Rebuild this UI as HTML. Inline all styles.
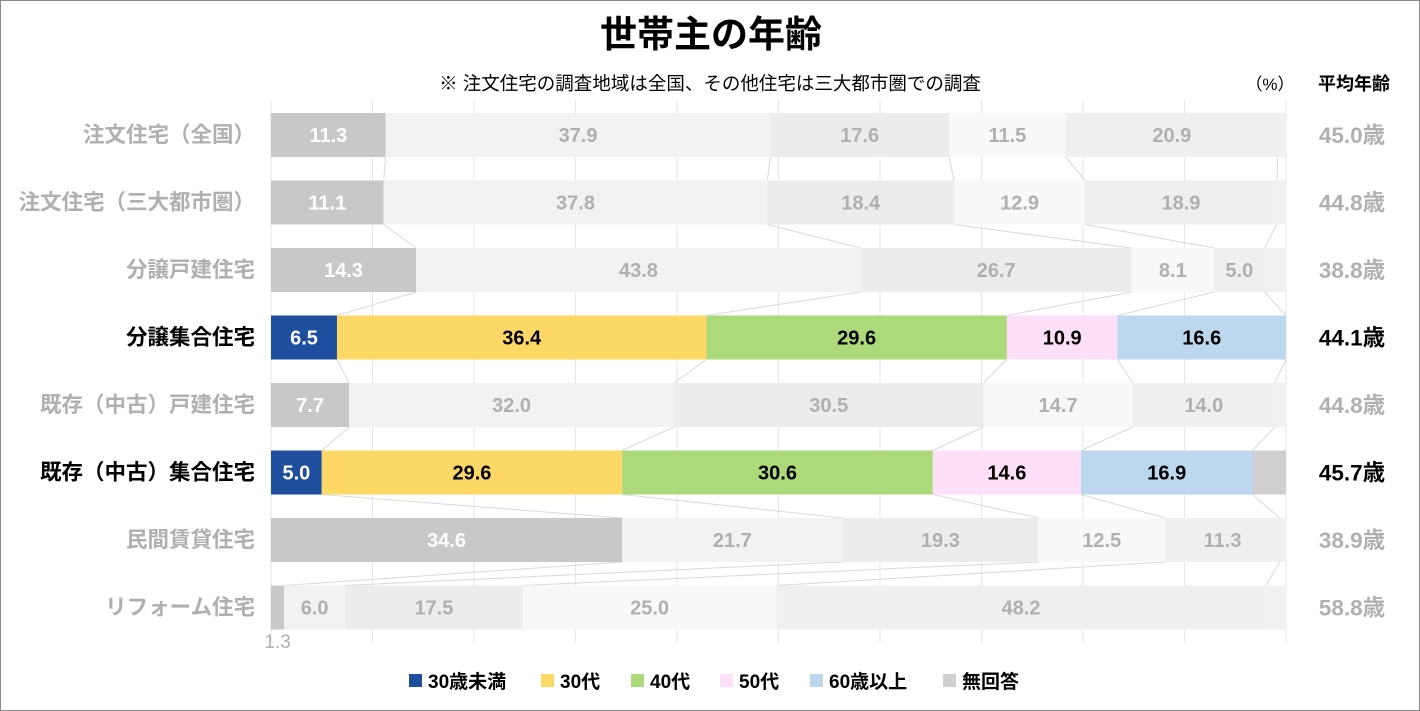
<!DOCTYPE html>
<html><head><meta charset="utf-8"><style>
body{margin:0;background:#fff}
svg{display:block;font-family:"Liberation Sans","Noto Sans CJK JP",sans-serif}
</style></head><body>
<svg id="s" width="1420" height="711" viewBox="0 0 1420 711" xmlns="http://www.w3.org/2000/svg">
<rect x="0.5" y="0.5" width="1419" height="710" fill="#fff" stroke="#8c8c8c"/>
<text x="711" y="47" text-anchor="middle" font-size="37" font-weight="bold" fill="#000">世帯主の年齢</text>
<text x="710" y="90" text-anchor="middle" font-size="18.5" fill="#000">※ 注文住宅の調査地域は全国、その他住宅は三大都市圏での調査</text>
<text x="1270" y="90" text-anchor="middle" font-size="17" fill="#000">（%）</text>
<text x="1354" y="90" text-anchor="middle" font-size="18" font-weight="bold" fill="#000">平均年齢</text>
<g id="g"></g>
</svg>
<script>
var data=[
["注文住宅（全国）",[11.3,37.9,17.6,11.5,20.9],"45.0歳",0],
["注文住宅（三大都市圏）",[11.1,37.8,18.4,12.9,18.9],"44.8歳",0],
["分譲戸建住宅",[14.3,43.8,26.7,8.1,5.0],"38.8歳",0],
["分譲集合住宅",[6.5,36.4,29.6,10.9,16.6],"44.1歳",1],
["既存（中古）戸建住宅",[7.7,32.0,30.5,14.7,14.0],"44.8歳",0],
["既存（中古）集合住宅",[5.0,29.6,30.6,14.6,16.9],"45.7歳",1],
["民間賃貸住宅",[34.6,21.7,19.3,12.5,11.3],"38.9歳",0],
["リフォーム住宅",[1.3,6.0,17.5,25.0,48.2],"58.8歳",0]];
var hc=["#1f4e9e","#fdd866","#acd97a","#fde0f7","#bdd7ee","#d0cece"];
var fc=["#c8c8c8","#f2f2f2","#ececec","#f8f8f8","#efefef","#f0f0f0"];
var X0=271,W=1015,H=44,s="";
function X(p){return X0+W*p/100}
for(var k=0;k<=10;k++){var x=X(k*10);s+='<line x1="'+x+'" y1="100" x2="'+x+'" y2="643" stroke="#e6e6e6" stroke-width="1"/>';}
var cums=[];
data.forEach(function(r,i){var c=[0],a=0;r[1].forEach(function(v){a+=v;c.push(a)});c.push(100);cums.push(c);});
for(var i=0;i<7;i++){var yb=113+i*67.5+H,yt=113+(i+1)*67.5;
 for(var j=1;j<=5;j++)s+='<line x1="'+X(cums[i][j])+'" y1="'+yb+'" x2="'+X(cums[i+1][j])+'" y2="'+yt+'" stroke="#d9d9d9" stroke-width="1"/>';}
data.forEach(function(r,i){var y=113+i*67.5,c=cums[i],hl=r[3];
 for(var j=0;j<6;j++){var x1=X(c[j]),x2=X(c[j+1]);if(x2-x1<=0)continue;
  s+='<rect x="'+x1+'" y="'+y+'" width="'+(x2-x1)+'" height="'+H+'" fill="'+(hl?hc[j]:fc[j])+'"/>';
  if(j<5){var v=r[1][j],col=hl?(j==0?"#fff":"#000"):(j==0?"#fff":"#b0b0b0");
   var tx=(x1+x2)/2;
   if(v<2){s+='<text x="'+tx+'" y="648" text-anchor="middle" font-size="19" fill="#b0b0b0">'+v.toFixed(1)+'</text>';}
   else s+='<text x="'+tx+'" y="'+(y+29)+'" text-anchor="middle" font-size="20" font-weight="bold" fill="'+col+'">'+v.toFixed(1)+'</text>';}
 }
 var lc=hl?"#000":"#b0b0b0";
 s+='<text x="255" y="'+(y+29)+'" text-anchor="end" font-size="21.5" font-weight="bold" fill="'+lc+'">'+r[0]+'</text>';
 s+='<text x="1352" y="'+(y+30)+'" text-anchor="middle" font-size="22.5" font-weight="bold" fill="'+lc+'">'+r[2]+'</text>';
});
var lg=[["30歳未満",409],["30代",541],["40代",631],["50代",720],["60歳以上",810],["無回答",943]];
lg.forEach(function(l,i){s+='<rect x="'+l[1]+'" y="674" width="13" height="13" fill="'+hc[i]+'"/><text x="'+(l[1]+19)+'" y="688" font-size="19" font-weight="bold" fill="#000">'+l[0]+'</text>';});
document.getElementById("g").innerHTML=s;
</script>
</body></html>
